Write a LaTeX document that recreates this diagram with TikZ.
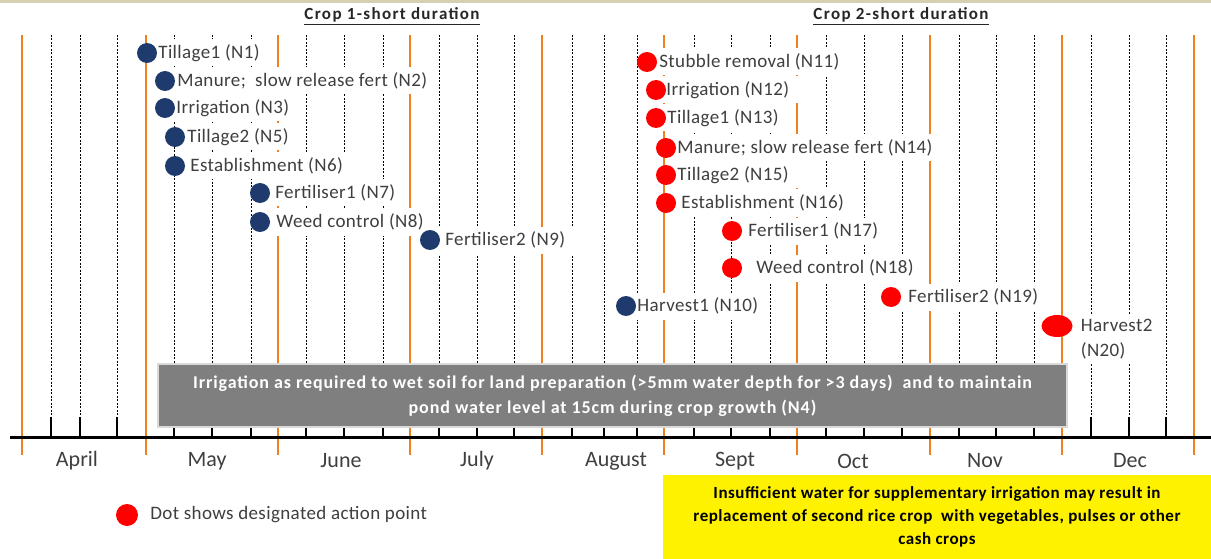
\documentclass[tikz,border=0pt]{standalone}
\usepackage{fontspec}
\setmainfont{Carlito}
\usetikzlibrary{positioning,shapes.geometric}

\definecolor{cropone}{HTML}{1F3B6E}
\definecolor{croptwo}{HTML}{FF0000}
\definecolor{monthline}{HTML}{F07F1E}
\definecolor{textgray}{HTML}{3F3F3F}
\definecolor{boxgray}{HTML}{7F7F7F}
\definecolor{boxedge}{HTML}{D9D9D9}
\definecolor{topband}{HTML}{D6D0B2}

% spaced-out text in a given size
\newcommand{\spaced}[3]{\fontsize{#1}{#2}\selectfont\addfontfeatures{LetterSpace=#3}}

\pgfdeclarelayer{grid}
\pgfdeclarelayer{dots}
\pgfsetlayers{grid,main,dots}

\begin{document}
\begin{tikzpicture}[x=1pt,y=-1pt,
    dot/.style={circle,minimum size=20pt,inner sep=0pt},
    blue dot/.style={dot,fill=cropone},
    red dot/.style={dot,fill=croptwo},
    lbl/.style={fill=white,inner xsep=10pt,inner ysep=0pt,minimum height=27pt,
      text=textgray,font=\spaced{19}{22}{2}},
    month/.style={text=textgray,font=\fontsize{22}{24}\selectfont},
    header/.style={text=black!85,font=\bfseries\spaced{17}{19}{8}}]
  \useasboundingbox (0,0) rectangle (1211,559);

  % weeks, months and time axis
  \begin{pgfonlayer}{grid}
    \fill[topband] (0,0) rectangle (1211,3);
    \foreach \x in {51,80,117,174,212,251,306,344,383,439,477,514,572,604,637,
                    694,731,770,826,864,902,959,996,1034,1091,1129,1166} {
      \draw[line width=0.8pt,dash pattern=on 2pt off 1.5pt] (\x,35) -- (\x,417);
      \draw[line width=1.2pt] (\x,417) -- (\x,437);
    }
    \foreach \x in {22,146,278,410,542,664,797,930,1062,1194}
      \draw[monthline,line width=1.8pt] (\x,35) -- (\x,455);
    \draw[line width=3pt] (10,437) -- (1211,437);
  \end{pgfonlayer}

  \node[header] (crop1) at (392,16) {\underline{Crop 1-short duration}};
  \node[header] (crop2) at (901,16) {\underline{Crop 2-short duration}};

  % action points
  \begin{pgfonlayer}{dots}
    \node[blue dot] (N1) at (147,53) {};
    \node[blue dot] (N2) at (165,81) {};
    \node[blue dot] (N3) at (165,108) {};
    \node[blue dot] (N5) at (175,137) {};
    \node[blue dot] (N6) at (175,166) {};
    \node[blue dot] (N7) at (260,193) {};
    \node[blue dot] (N8) at (260,222) {};
    \node[blue dot] (N9) at (430,240) {};
    \node[blue dot] (N10) at (626,306) {};
    \node[red dot] (N11) at (647,62) {};
    \node[red dot] (N12) at (656,90) {};
    \node[red dot] (N13) at (656,118) {};
    \node[red dot] (N14) at (666,148) {};
    \node[red dot] (N15) at (666,175) {};
    \node[red dot] (N16) at (666,203) {};
    \node[red dot] (N17) at (732,231) {};
    \node[red dot] (N18) at (732,268) {};
    \node[red dot] (N19) at (891,297) {};
    \node[red dot,ellipse,minimum width=31pt,minimum height=22pt] (N20) at (1057,326) {};
    \node[red dot,minimum size=22pt] (key) at (127,515) {};
  \end{pgfonlayer}

  \node[lbl,right=-9pt of N1] (t1) {Tillage1 (N1)};
  \node[lbl,right=-8pt of N2] (t2) {Manure;\ \ slow release fert (N2)};
  \node[lbl,right=-9pt of N3] (t3) {Irrigation (N3)};
  \node[lbl,right=-8pt of N5] (t5) {Tillage2 (N5)};
  \node[lbl,right=-5pt of N6] (t6) {Establishment (N6)};
  \node[lbl,right=-5pt of N7] (t7) {Fertiliser1 (N7)};
  \node[lbl,right=-4pt of N8] (t8) {Weed control (N8)};
  \node[lbl,right=-5pt of N9] (t9) {Fertiliser2 (N9)};
  \node[lbl,right=-9pt of N10] (t10) {Harvest1 (N10)};
  \node[lbl,right=-8pt of N11] (t11) {Stubble removal (N11)};
  \node[lbl,right=-10pt of N12] (t12) {Irrigation (N12)};
  \node[lbl,right=-9pt of N13] (t13) {Tillage1 (N13)};
  \node[lbl,right=-9pt of N14] (t14) {Manure; slow release fert (N14)};
  \node[lbl,right=-9pt of N15] (t15) {Tillage2 (N15)};
  \node[lbl,right=-5pt of N16] (t16) {Establishment (N16)};
  \node[lbl,right=-4pt of N17] (t17) {Fertiliser1 (N17)};
  \node[lbl,right=4pt of N18] (t18) {Weed control (N18)};
  \node[lbl,right=-3pt of N19] (t19) {Fertiliser2 (N19)};
  \node[lbl,align=left,inner ysep=4pt,font=\spaced{19}{25}{2},
    below right=-11pt and -2pt of N20.east] (t20) {Harvest2\\(N20)};

  % water notes
  \node[fill=boxgray,draw=boxedge,line width=2.5pt,minimum width=909pt,minimum height=63pt,
    text=white,align=center,font=\bfseries\spaced{18}{25}{5}] (water) at (612.5,395.5)
    {Irrigation as required to wet soil for land preparation (>5mm water depth for >3 days)\ \ and to maintain\\
     pond water level at 15cm during crop growth (N4)};

  \node[month] (apr) at (77,461) {April};
  \node[month] (may) at (207,461) {May};
  \node[month] (jun) at (341,461) {June};
  \node[month] (jul) at (477,461) {July};
  \node[month] (aug) at (616,461) {August};
  \node[month] (sep) at (735,461) {Sept};
  \node[month] (oct) at (853,461) {Oct};
  \node[month] (nov) at (985,461) {Nov};
  \node[month] (dec) at (1130,461) {Dec};

  \node[lbl,right=2pt of key] (keytext) {Dot shows designated action point};

  \node[fill=yellow,minimum width=548pt,minimum height=84pt,inner sep=0pt,align=center,
    font=\bfseries\spaced{17}{23}{3}] (drynote) at (937,517)
    {Insufficient water for supplementary irrigation may result in\\
     replacement of second rice crop\ \ with vegetables, pulses or other\\
     cash crops};
\end{tikzpicture}
\end{document}
